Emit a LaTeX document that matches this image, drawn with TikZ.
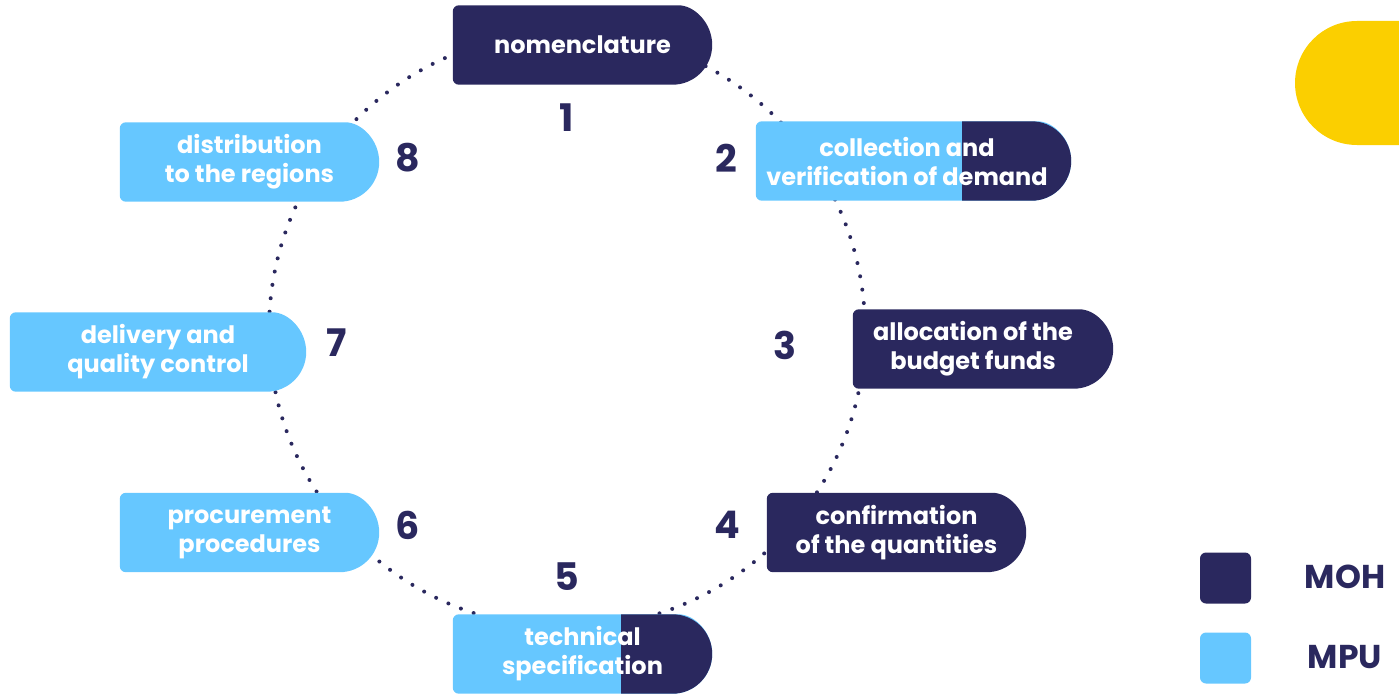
\documentclass[tikz,border=0pt]{standalone}
\usepackage{fontspec}
\setmainfont{Poppins}
\usetikzlibrary{calc,backgrounds}

\definecolor{navy}{RGB}{42,40,94}
\definecolor{sky}{RGB}{102,199,255}
\definecolor{sun}{RGB}{251,207,0}

\tikzset{
  task/.style={text=white, font=\fontsize{24}{29}\selectfont\bfseries, align=center, inner sep=0pt, minimum height=79pt},
  num/.style={text=navy, font=\fontsize{38}{38}\selectfont\bfseries},
  legendbox/.style={rounded corners=6pt, minimum size=51pt, inner sep=0pt},
  legendtext/.style={text=navy, font=\fontsize{33}{33}\selectfont\bfseries}
}

% box with a round right end, optional extra length on the right
\newcommand{\pillbg}[3][0pt]{%
  \fill[#3] let \p1=(#2.north east), \p2=(#2.south west), \n1={(\y1-\y2)/2} in
    (\x1+#1-\n1,\y1) arc[start angle=90, end angle=-90, radius=\n1]
    [rounded corners=6pt] -- (\x2,\y2) -- (\x2,\y1) -- cycle;}
% dark part of a shared box, from x = #4
\newcommand{\pilltail}[4][0pt]{%
  \fill[#3] let \p1=(#2.north east), \p2=(#2.south west), \n1={(\y1-\y2)/2} in
    (\x1+#1-\n1,\y1) arc[start angle=90, end angle=-90, radius=\n1]
    -- (#4pt,\y2) -- (#4pt,\y1) -- cycle;}

\begin{document}
\begin{tikzpicture}[x=1pt, y=-1pt]
\useasboundingbox (0,0) rectangle (1399,693);

\node[task, minimum width=259pt] (nomen) at (582.5,45) {nomenclature};
\node[task, minimum width=302pt] (demand) at (907,161) {collection and\\verification of demand};
\node[task, minimum width=240pt] (budget) at (973,349) {allocation of the\\budget funds};
\node[task, minimum width=259pt] (confirm) at (896.5,532.5) {confirmation\\of the quantities};
\node[task, minimum width=259pt] (techspec) at (582.5,654) {technical\\specification};
\node[task, minimum width=259pt] (procure) at (249.5,532.5) {procurement\\procedures};
\node[task, minimum width=296pt] (delivery) at (158,352) {delivery and\\quality control};
\node[task, minimum width=259pt] (distrib) at (249.5,162) {distribution\\to the regions};

\node[num] (n1) at (567,118) {1};
\node[num] (n2) at (726,158) {2};
\node[num] (n3) at (785,345) {3};
\node[num] (n4) at (727,525) {4};
\node[num] (n5) at (567,577) {5};
\node[num] (n6) at (408,525) {6};
\node[num] (n7) at (337,343) {7};
\node[num] (n8) at (408,158) {8};

\node[legendbox, fill=navy] (mohbox) at (1225.5,578) {};
\node[legendbox, fill=sky] (mpubox) at (1225.5,658) {};
\node[legendtext] (moh) at (1345,577) {MOH};
\node[legendtext] (mpu) at (1345,657) {MPU};

\begin{pgfonlayer}{background}
\draw[navy, line width=4pt, line cap=round, dash pattern=on 0pt off 13.5pt] (567,330) circle[radius=298pt];
\fill[sun] (1399,21) -- (1357,21) arc[start angle=90, end angle=270, radius=62pt] -- (1399,145) -- cycle;
\pillbg{nomen}{navy}
\pillbg[13pt]{demand}{sky}
\pilltail[13pt]{demand}{navy}{962}
\pillbg[20pt]{budget}{navy}
\pillbg{confirm}{navy}
\pillbg{techspec}{sky}
\pilltail{techspec}{navy}{621}
\pillbg{procure}{sky}
\pillbg{delivery}{sky}
\pillbg{distrib}{sky}
\end{pgfonlayer}
\end{tikzpicture}
\end{document}
